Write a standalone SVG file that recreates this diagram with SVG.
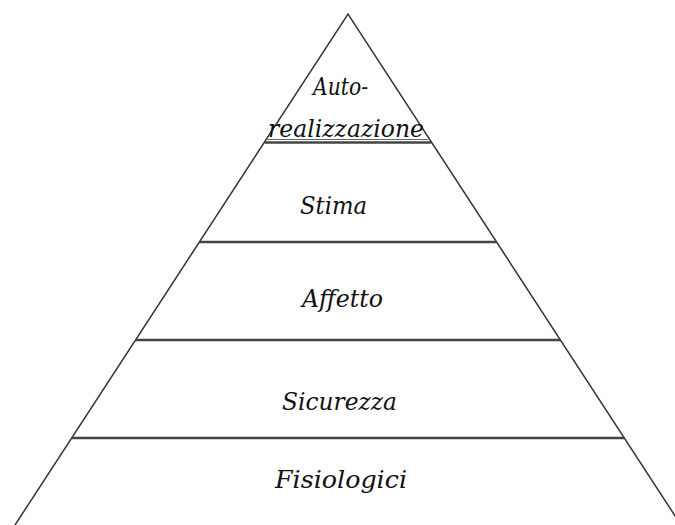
<svg xmlns="http://www.w3.org/2000/svg" width="675" height="525" viewBox="0 0 675 525">
<style>
.side{stroke:#333;stroke-width:1.5;fill:none}
.lvl{stroke:#444;stroke-width:2.5;fill:none}
.thin{stroke:#666;stroke-width:1;fill:none}
.lbl{font-family:"DejaVu Serif","Liberation Serif",serif;font-style:italic;font-size:24px;fill:#111}
</style>
<rect width="675" height="525" fill="#fff"/>
<g id="pyramid">
<polyline class="side" points="15,525 348,14 681,525"/>
</g>
<g id="connectors">
<line class="thin" x1="266" y1="139.5" x2="428" y2="139.5"/>
<line class="lvl" x1="264.6" y1="142.5" x2="431.4" y2="142.5"/>
<line class="lvl" x1="199.4" y1="242" x2="496.6" y2="242"/>
<line class="lvl" x1="135.5" y1="340" x2="560.5" y2="340"/>
<line class="lvl" x1="72" y1="438" x2="624" y2="438"/>
</g>
<g id="node-auto">
<text class="lbl" x="313" y="95" textLength="55" lengthAdjust="spacingAndGlyphs">Auto-</text>
<text class="lbl" x="268" y="137" textLength="156" lengthAdjust="spacingAndGlyphs">realizzazione</text>
</g>
<g id="node-stima">
<text class="lbl" x="300" y="214" textLength="67" lengthAdjust="spacingAndGlyphs">Stima</text>
</g>
<g id="node-affetto">
<text class="lbl" x="302" y="307" textLength="81" lengthAdjust="spacingAndGlyphs">Affetto</text>
</g>
<g id="node-sicurezza">
<text class="lbl" x="282" y="410" textLength="115" lengthAdjust="spacingAndGlyphs">Sicurezza</text>
</g>
<g id="node-fisiologici">
<text class="lbl" x="275" y="488" textLength="132" lengthAdjust="spacingAndGlyphs">Fisiologici</text>
</g>
</svg>
